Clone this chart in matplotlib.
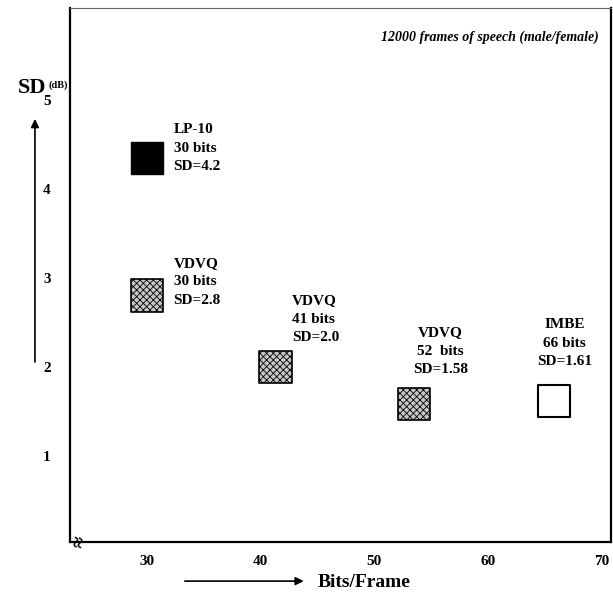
import matplotlib
matplotlib.use('Agg')
import matplotlib.pyplot as plt

# values
coders = ['LP-10', 'VDVQ', 'VDVQ', 'VDVQ', 'IMBE']
bits_plot = [30, 30, 41.3, 53.5, 65.8]
sd_plot = [4.35, 2.8, 2.0, 1.58, 1.61]
sd_text = ['4.2', '2.8', '2.0', '1.58', '1.61']
bits_text = ['30 bits', '30 bits', '41 bits', '52  bits', '66 bits']
fills = ['black', 'hatch', 'hatch', 'hatch', 'white']
x_ticks = [30, 40, 50, 60, 70]
y_ticks = [1, 2, 3, 4, 5]

# label offsets in points relative to each box
offsets = [(19, 7), (19, 10), (12, 34), (19, 38), (8, 42)]
aligns = ['left', 'left', 'left', 'center', 'center']

plt.rcParams['font.family'] = 'Liberation Serif'
plt.rcParams['font.weight'] = 'bold'
plt.rcParams['hatch.linewidth'] = 0.6

fig = plt.figure(figsize=(6.13, 5.96), dpi=100)
ax = fig.add_axes([0.1142, 0.0906, 0.8825, 0.896])

ax.set_xlim(23.2, 70.85)
ax.set_ylim(0.028, 6.035)

for i in range(len(bits_plot)):
    if fills[i] == 'black':
        ax.scatter(bits_plot[i], sd_plot[i], marker='s', s=540, c='black', zorder=3)
    elif fills[i] == 'hatch':
        ax.scatter(bits_plot[i], sd_plot[i], marker='s', s=540, facecolor='#c8c8c8',
                   edgecolor='black', hatch='xxxxx', linewidths=1.2, zorder=3)
    else:
        ax.scatter(bits_plot[i], sd_plot[i], marker='s', s=540, facecolor='white',
                   edgecolor='black', linewidths=1.5, zorder=3)
    label = coders[i] + '\n' + bits_text[i] + '\nSD=' + sd_text[i]
    ax.annotate(label, (bits_plot[i], sd_plot[i]), xytext=offsets[i],
                textcoords='offset points', ha=aligns[i], va='center',
                fontsize=11, fontweight='bold', linespacing=1.55,
                multialignment='center' if aligns[i] == 'center' else 'left')

ax.set_xticks(x_ticks)
ax.set_yticks(y_ticks)
ax.tick_params(length=0, labelsize=11, pad=9)
ax.tick_params(axis='y', pad=14)
for lab in ax.get_xticklabels() + ax.get_yticklabels():
    lab.set_fontweight('bold')

for s in ax.spines.values():
    s.set_linewidth(1.6)
ax.spines['top'].set_linewidth(0.8)
ax.spines['top'].set_color('#666666')

ax.text(0.978, 0.945, '12000 frames of speech (male/female)', transform=ax.transAxes,
        ha='right', va='center', fontsize=10, fontstyle='italic', fontweight='bold')

# axis break mark
ax.text(24.1, 0.028, '\u2248', rotation=80, ha='center', va='center',
        fontsize=15, fontweight='bold', clip_on=False)

# axis titles with arrows
fig.text(0.075, 0.852, 'SD', fontsize=16, fontweight='bold', ha='right', va='center')
fig.text(0.079, 0.857, '(dB)', fontsize=7.5, fontweight='bold', ha='left', va='center')
fig.patches.append(matplotlib.patches.FancyArrowPatch(
    (0.057, 0.388), (0.057, 0.805), transform=fig.transFigure,
    arrowstyle='-|>', mutation_scale=12, lw=1.2, color='black'))

fig.text(0.518, 0.023, 'Bits/Frame', fontsize=14, fontweight='bold', ha='left', va='center')
fig.patches.append(matplotlib.patches.FancyArrowPatch(
    (0.297, 0.025), (0.5, 0.025), transform=fig.transFigure,
    arrowstyle='-|>', mutation_scale=12, lw=1.2, color='black'))

fig.savefig('out.png', dpi=100)
